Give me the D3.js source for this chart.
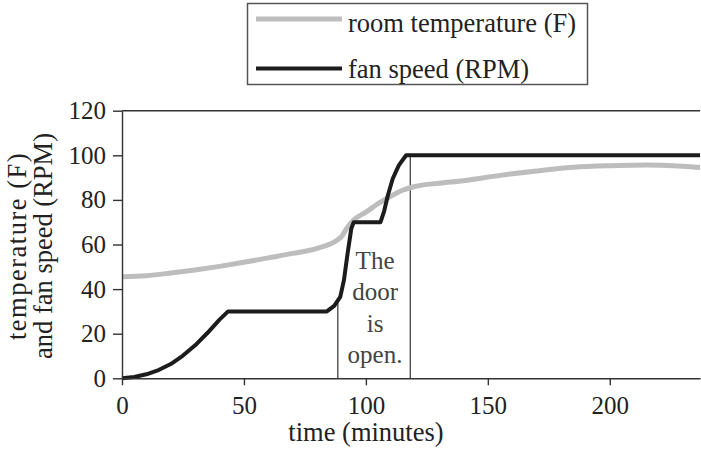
<!DOCTYPE html>
<html>
<head>
<meta charset="utf-8">
<script src="https://cdn.jsdelivr.net/npm/d3@7"></script>
<style>
	body { margin: 0; background: #fff; }
	svg { display: block; }
	.axis path, .axis line { stroke: #333; stroke-width: 1.4; }
	.axis text { font-family: "Liberation Serif", "DejaVu Serif", serif; font-size: 25px; fill: #222; }
	.title { font-family: "Liberation Serif", "DejaVu Serif", serif; font-size: 26.5px; fill: #222; }
	.door { font-family: "Liberation Serif", "DejaVu Serif", serif; font-size: 25px; fill: #444; }
	.line { fill: none; stroke-linejoin: round; }
	.line__temp { stroke: #bdbdbd; stroke-width: 5; }
	.line__fan { stroke: #1c1c1c; stroke-width: 4; }
</style>
</head>
<body>
<div class="svg-container"></div>
<script>
// room temperature (F)
var tempTime = [0, 10, 20, 30, 40, 50, 60, 70, 80, 88, 90, 92, 95, 100, 105, 110, 115, 120, 130, 140, 155, 170, 185, 200, 215, 228, 237];
var tempValue = [45.5, 46, 47.2, 48.6, 50.2, 52, 54, 56, 58.3, 61.8, 63.5, 67, 71, 74.5, 78.3, 81.5, 84.3, 86, 87.5, 88.6, 91, 93, 94.6, 95.3, 95.6, 95.2, 94.5];

// fan speed (RPM)
var fanTime = [0, 5, 10, 15, 20, 25, 30, 35, 40, 43.5, 84, 87, 89.5, 91, 92.5, 94, 95, 106, 107.5, 109, 111, 113.5, 116.5, 237];
var fanValue = [0, 0.6, 1.8, 3.7, 6.4, 10.2, 14.8, 20.3, 26.3, 30, 30, 32.5, 36.5, 44, 56, 67, 70, 70, 75, 82, 89.5, 95.5, 100, 100];

// door open interval (minutes)
var doorTimes = [88.5, 118.2];
var doorText = ["The", "door", "is", "open."];

var xTicks = [0, 50, 100, 150, 200];
var yTicks = [0, 20, 40, 60, 80, 100, 120];

var legendNames = ["room temperature (F)", "fan speed (RPM)"];

var width = 701, height = 451;
var plotLeft = 122, plotRight = 700, plotTop = 110.7, plotBottom = 378.3;

var svg = d3.select('.svg-container')
	.append('svg')
	.attr('width', width)
	.attr('height', height);

var xScale = d3.scaleLinear()
	.domain([0, 237])
	.range([plotLeft, plotRight]);

var yScale = d3.scaleLinear()
	.domain([0, 120])
	.range([plotBottom, plotTop]);

var xAxis = d3.axisBottom(xScale)
	.tickValues(xTicks)
	.tickSize(7)
	.tickSizeOuter(0)
	.tickPadding(11);

var yAxis = d3.axisLeft(yScale)
	.tickValues(yTicks)
	.tickSize(9)
	.tickSizeOuter(0)
	.tickPadding(7);

// top border of the plot
svg.append('line')
	.attr('x1', plotLeft)
	.attr('x2', plotRight)
	.attr('y1', yScale(120))
	.attr('y2', yScale(120))
	.attr('stroke', '#333')
	.attr('stroke-width', 1.4);

// door lines
var fanAt = d3.scaleLinear().domain(fanTime).range(fanValue);
svg.selectAll('.door-line')
	.data(doorTimes)
	.enter()
	.append('line')
	.attr('class', 'door-line')
	.attr('x1', function(d) { return xScale(d); })
	.attr('x2', function(d) { return xScale(d); })
	.attr('y1', yScale(0))
	.attr('y2', function(d) { return yScale(fanAt(d)); })
	.attr('stroke', '#333')
	.attr('stroke-width', 1.2);

var doorMid = xScale((doorTimes[0] + doorTimes[1]) / 2);
svg.append('text')
	.attr('class', 'door')
	.attr('text-anchor', 'middle')
	.selectAll('tspan')
	.data(doorText)
	.enter()
	.append('tspan')
	.attr('x', doorMid + 1)
	.attr('y', function(d, i) { return 268.5 + i * 31.5; })
	.text(function(d) { return d; });

var tempData = tempTime.map(function(t, i) { return { t: t, v: tempValue[i] }; });
var fanData = fanTime.map(function(t, i) { return { t: t, v: fanValue[i] }; });

var tempLine = d3.line()
	.curve(d3.curveMonotoneX)
	.x(function(d) { return xScale(d.t); })
	.y(function(d) { return yScale(d.v); });

var fanLine = d3.line()
	.x(function(d) { return xScale(d.t); })
	.y(function(d) { return yScale(d.v); });

svg.append('path')
	.datum(tempData)
	.attr('class', 'line line__temp')
	.attr('d', tempLine);

svg.append('path')
	.datum(fanData)
	.attr('class', 'line line__fan')
	.attr('d', fanLine);

svg.append('g')
	.attr('class', 'axis')
	.attr('transform', 'translate(0, ' + plotBottom + ')')
	.call(xAxis);

svg.append('g')
	.attr('class', 'axis')
	.attr('transform', 'translate(' + plotLeft + ', 0)')
	.call(yAxis);

// axis titles
svg.append('text')
	.attr('class', 'title')
	.attr('x', 366)
	.attr('y', 441)
	.attr('text-anchor', 'middle')
	.text('time (minutes)');

var yTitle = svg.append('text')
	.attr('class', 'title')
	.attr('text-anchor', 'middle')
	.attr('transform', 'translate(0, 246) rotate(-90)');
yTitle.append('tspan').attr('x', 0).attr('y', 26).attr('letter-spacing', 1.5).text('temperature (F)');
yTitle.append('tspan').attr('x', 0).attr('y', 52).text('and fan speed (RPM)');

// legend
var legend = svg.append('g');
legend.append('rect')
	.attr('x', 247.5)
	.attr('y', 3.5)
	.attr('width', 340)
	.attr('height', 81)
	.attr('fill', 'none')
	.attr('stroke', '#555')
	.attr('stroke-width', 1.5);

var legendClass = ['line__temp', 'line__fan'];
legendNames.forEach(function(name, i) {
	legend.append('line')
		.attr('class', 'line ' + legendClass[i])
		.attr('x1', 256)
		.attr('x2', 342)
		.attr('y1', 19 + i * 49.5)
		.attr('y2', 19 + i * 49.5);
	legend.append('text')
		.attr('class', 'title')
		.attr('x', 348)
		.attr('y', 32 + i * 46)
		.text(name);
});
</script>
</body>
</html>
